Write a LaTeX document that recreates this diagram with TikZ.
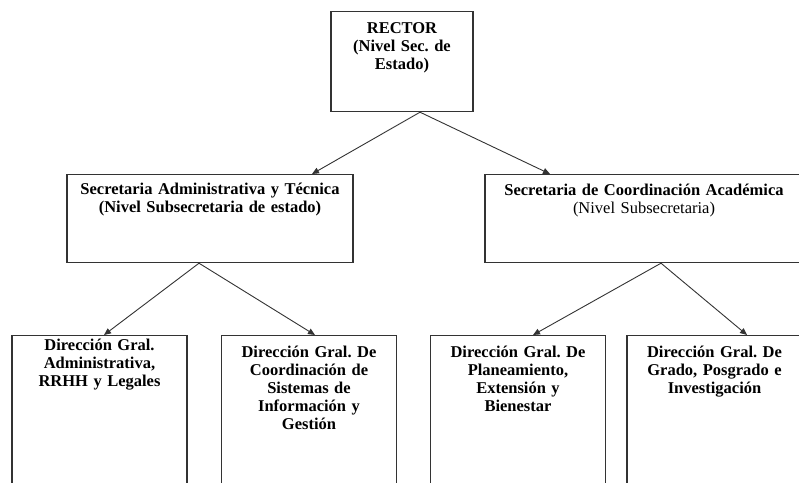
\documentclass[tikz,border=0pt]{standalone}
\usepackage{fontspec}
\setmainfont{Liberation Serif}
\usetikzlibrary{arrows.meta}
\frenchspacing

\begin{document}
\begin{tikzpicture}[x=1pt, y=1pt,
    box/.style={draw=black!80, line width=1.2pt, inner sep=0pt, align=center, anchor=north,
      font=\bfseries\fontsize{16.5}{18}\selectfont},
    link/.style={-{Triangle[length=7pt, width=6pt]}, draw=black!80, line width=0.9pt}]
  \useasboundingbox (0, 0) rectangle (799, 482);
  \clip (0, 0) rectangle (799, 482);
  % top level
  \node (rector)[box, text width=142pt, text height=22pt, text depth=78pt] at (402, 471) {RECTOR\\(Nivel Sec. de\\Estado)};
  % secretarias
  \node (secadm)[box, text width=286pt, text height=20pt, text depth=68pt] at (210, 308) {Secretaria Administrativa y Técnica\\(Nivel Subsecretaria de estado)};
  \node (seccoord)[box, text width=318pt, text height=21pt, text depth=67pt] at (644, 308) {Secretaria de Coordinación Académica\\{\mdseries(Nivel Subsecretaria)}};
  % direcciones
  \node (dgadm)[box, text width=175pt, text height=15pt, text depth=170pt] at (99.5, 147) {Dirección Gral.\\Administrativa,\\RRHH y Legales};
  \node (dgsis)[box, text width=175pt, text height=22pt, text depth=170pt] at (309, 147) {Dirección Gral. De\\Coordinación de\\Sistemas de\\Información y\\Gestión};
  \node (dgplan)[box, text width=175pt, text height=22pt, text depth=170pt] at (518, 147) {Dirección Gral. De\\Planeamiento,\\Extensión y\\Bienestar};
  \node (dggrado)[box, text width=175pt, text height=22pt, text depth=170pt] at (714.5, 147) {Dirección Gral. De\\Grado, Posgrado e\\Investigación};
  \draw[link] ([xshift=18pt]rector.south) -- ([xshift=102pt]secadm.north);
  \draw[link] ([xshift=18pt]rector.south) -- ([xshift=-94pt]seccoord.north);
  \draw[link] ([xshift=-11pt]secadm.south) -- ([xshift=4.5pt]dgadm.north);
  \draw[link] ([xshift=-11pt]secadm.south) -- ([xshift=6pt]dgsis.north);
  \draw[link] ([xshift=17pt]seccoord.south) -- ([xshift=15pt]dgplan.north);
  \draw[link] ([xshift=17pt]seccoord.south) -- ([xshift=32.5pt]dggrado.north);
\end{tikzpicture}
\end{document}
